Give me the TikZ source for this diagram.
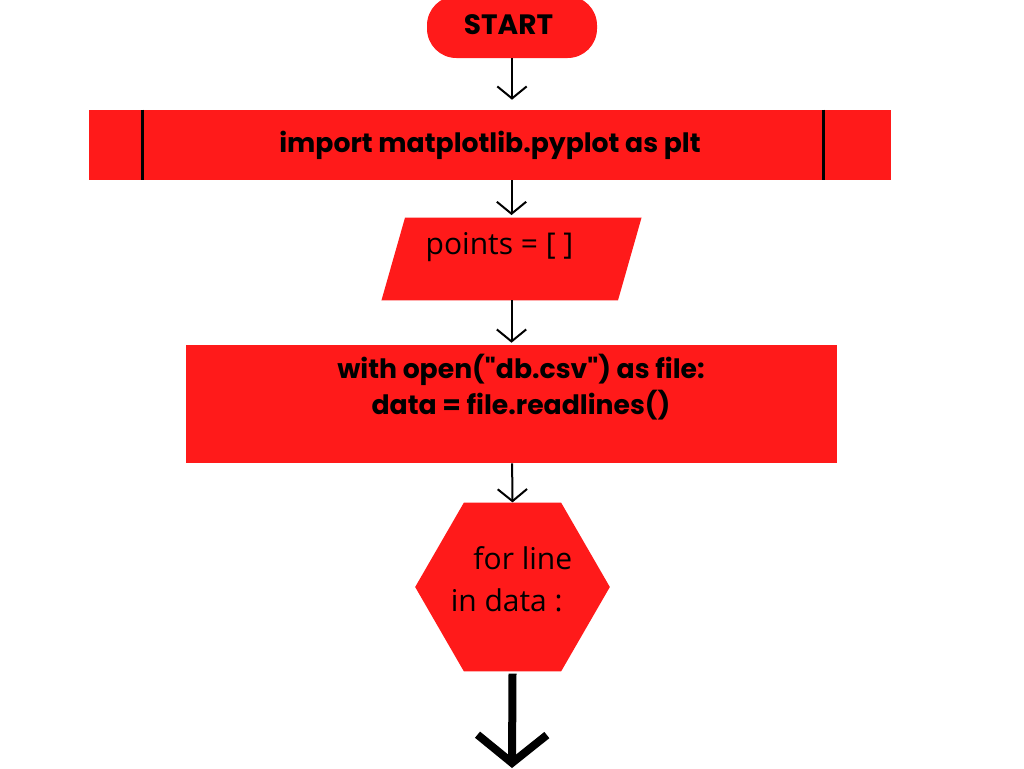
\documentclass[tikz,border=0pt]{standalone}
\usepackage{fontspec}
\usepackage{xcolor}
\usetikzlibrary{arrows.meta,shapes.geometric,calc}
\newfontfamily\boldfont{Poppins}[UprightFont=* Bold]
\setmainfont{Open Sans}
\definecolor{flowred}{RGB}{255,26,26}

\tikzset{
  block/.style={fill=flowred, inner sep=0pt, font=\boldfont\fontsize{20}{27}\selectfont},
  io/.style={rectangle, minimum width=177pt, minimum height=61.5pt, inner sep=0pt},
  loopbox/.style={regular polygon, regular polygon sides=6, fill=flowred,
    minimum size=146pt, inner sep=0pt},
  label/.style={inner sep=0pt, font=\fontsize{22.5}{31.5}\selectfont},
  flow/.style={line width=1.5pt, -{Straight Barb[length=9pt, width=22pt]}},
  bigflow/.style={line width=6pt, -{Straight Barb[length=21pt, width=52pt]}}
}

\begin{document}
\begin{tikzpicture}[x=0.75pt, y=-0.75pt]
  \clip (0,0) rectangle (1024,768);
  \fill[white] (0,0) rectangle (1024,768);

  \node[block, rounded corners=22pt, minimum width=127.5pt, minimum height=46.5pt] (start) at (512,27) {};
  \node[inner sep=0pt, font=\boldfont\fontsize{21}{24}\selectfont] (starttext) at (508.5,25) {START};
  \node[block, minimum width=601.5pt, minimum height=52.5pt] (imp) at (490,145)
    {import matplotlib.pyplot as plt};
  \draw[line width=2.5pt] ($(imp.north west)+(54,0)$) -- ($(imp.south west)+(54,0)$);
  \draw[line width=2.5pt] ($(imp.north east)+(-68,0)$) -- ($(imp.south east)+(-68,0)$);

  \node[io] (pts) at (511.5,259) {};
  \fill[flowred] ($(pts.north west)+(11.75,0)$) -- ($(pts.north east)+(11.75,0)$)
    -- ($(pts.south east)+(-11.75,0)$) -- ($(pts.south west)+(-11.75,0)$) -- cycle;
  \node[label] (ptstext) at (499.5,247) {points = [ ]};

  \node[block, minimum width=488pt, minimum height=88.5pt] (open) at (511.5,404) {};
  \node[block, align=center] (opentext) at (521,387)
    {with open("db.csv") as file:\\data = file.readlines()};

  \node[loopbox] (loop) at (512.5,587) {};
  \node[label, align=left] (looptext) at (511.5,579) {\hspace*{17pt}for line\\in data :};

  \coordinate (out) at (512,768);

  % connectors
  \draw[flow] (start.south) -- ([yshift=7.5pt]start.south |- imp.north);
  \draw[flow] (pts.north |- imp.south) -- ([yshift=2pt]pts.north);
  \draw[flow] (pts) -- ([yshift=1.5pt]open.north);
  \draw[flow] (open) -- (loop.north);
  \draw[bigflow] ([yshift=-1.5pt]loop.south) -- (out);
\end{tikzpicture}
\end{document}
